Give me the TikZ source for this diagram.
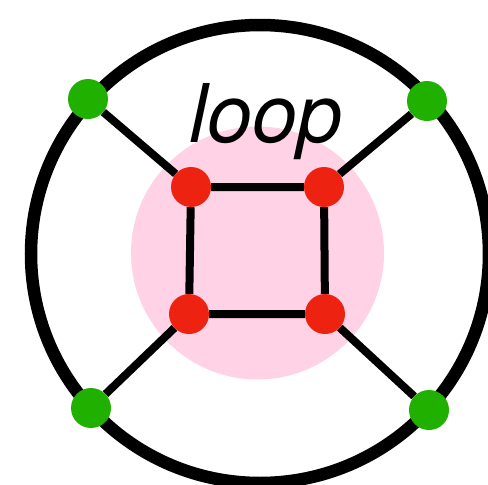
\documentclass[tikz,border=0pt]{standalone}
\usepackage{fontspec}
\setmainfont{TeX Gyre Heros}
\usepackage{xcolor}
\usepackage{tikz}
\usetikzlibrary{positioning}

\definecolor{looppink}{HTML}{FFD2E6}
\definecolor{vertred}{HTML}{EE2211}
\definecolor{legreen}{HTML}{20B000}

\begin{document}
\begin{tikzpicture}[
  x=1pt, y=-1pt,
  vertex/.style={circle, inner sep=0pt, minimum size=40pt},
  inner/.style={vertex, fill=vertred},
  outer/.style={vertex, fill=legreen},
  prop/.style={line width=8pt, black}
]
\useasboundingbox (0,0) rectangle (488,485);
\fill[looppink] (257.5,253) circle (126.5);
\draw[line width=12.5pt] (260,254) circle (229);
\node[inner] (v-tl) at (191,187) {};
\node[inner] (v-tr) at (324,187) {};
\node[inner] (v-bl) at (189,314) {};
\node[inner] (v-br) at (325,314) {};
\node[outer] (ext-tl) at (88,99) {};
\node[outer] (ext-tr) at (427,101) {};
\node[outer] (ext-bl) at (91,408) {};
\node[outer] (ext-br) at (429,410) {};
\draw[prop] (v-tl) -- (v-tr) -- (v-br) -- (v-bl) -- (v-tl);
\draw[prop] (v-tl) -- (ext-tl);
\draw[prop] (v-tr) -- (ext-tr);
\draw[prop] (v-bl) -- (ext-bl);
\draw[prop] (v-br) -- (ext-br);
\node[anchor=base, inner sep=0pt, font=\fontsize{81}{84}\selectfont\itshape] (loop-label) at (266,142) {loop};
\end{tikzpicture}
\end{document}
